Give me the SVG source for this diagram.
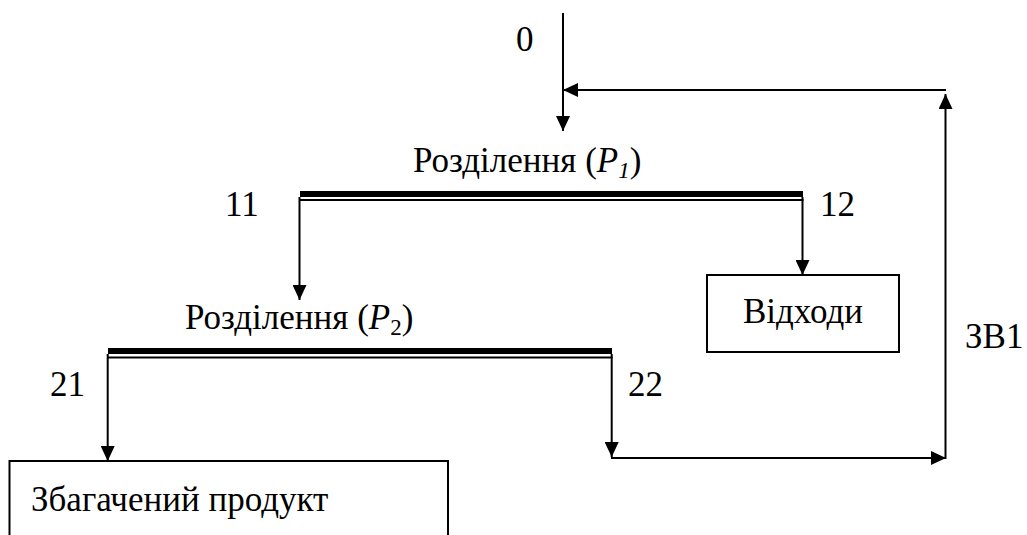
<svg xmlns="http://www.w3.org/2000/svg" width="1027" height="535" viewBox="0 0 1027 535">
  <style>
    .ln { stroke: #000; stroke-width: 2; fill: none; }
    .box { stroke: #000; stroke-width: 2; fill: #fff; }
    .bar { fill: #000; }
  </style>
  <defs>
    <marker id="arr" markerUnits="userSpaceOnUse" markerWidth="16" markerHeight="14" refX="15" refY="7" orient="auto">
      <path d="M0,0 L15,7 L0,14 Z" fill="#000"/>
    </marker>
  </defs>

  <g font-family="Liberation Serif, Times New Roman, Tinos, Noto Serif, DejaVu Serif, serif" font-size="35" fill="#000">
  <!-- separator 1 -->
  <g id="sep1">
    <rect class="bar" x="300" y="191" width="503" height="6"/>
    <line class="ln" x1="299" y1="200" x2="803.5" y2="200"/>
    <text x="413" y="172">Розділення (<tspan font-style="italic">P</tspan><tspan font-style="italic" font-size="23" dy="6">1</tspan><tspan dy="-6">)</tspan></text>
  </g>

  <!-- separator 2 -->
  <g id="sep2">
    <rect class="bar" x="108" y="348" width="504" height="6"/>
    <line class="ln" x1="107" y1="357.5" x2="612.5" y2="357.5"/>
    <text x="185" y="329">Розділення (<tspan font-style="italic">P</tspan><tspan font-size="23" dy="6">2</tspan><tspan dy="-6">)</tspan></text>
  </g>

  <!-- waste -->
  <g id="waste">
    <rect class="box" x="707" y="275" width="192" height="77"/>
    <text x="803" y="323" text-anchor="middle">Відходи</text>
  </g>

  <!-- concentrate -->
  <g id="product">
    <rect class="box" x="9.5" y="461" width="438.5" height="90"/>
    <text x="31" y="511">Збагачений продукт</text>
  </g>

  <!-- stream labels -->
  <g id="labels">
    <text x="516" y="51">0</text>
    <text x="225" y="216">11</text>
    <text x="820" y="216">12</text>
    <text x="50" y="396">21</text>
    <text x="628" y="396">22</text>
    <text x="965" y="348">ЗВ1</text>
  </g>
  </g>

  <!-- connectors -->
  <g id="connectors">
    <line class="ln" x1="563" y1="13" x2="563" y2="131" marker-end="url(#arr)"/>
    <line class="ln" x1="946" y1="90" x2="563" y2="90" marker-end="url(#arr)"/>
    <line class="ln" x1="299.5" y1="197" x2="299.5" y2="300" marker-end="url(#arr)"/>
    <line class="ln" x1="802.5" y1="197" x2="802.5" y2="275" marker-end="url(#arr)"/>
    <line class="ln" x1="107.7" y1="354" x2="107.7" y2="461" marker-end="url(#arr)"/>
    <line class="ln" x1="611.7" y1="354" x2="611.7" y2="457" marker-end="url(#arr)"/>
    <line class="ln" x1="611" y1="458" x2="946" y2="458" marker-end="url(#arr)"/>
    <line class="ln" x1="945.5" y1="459" x2="945.5" y2="94" marker-end="url(#arr)"/>
  </g>
</svg>
